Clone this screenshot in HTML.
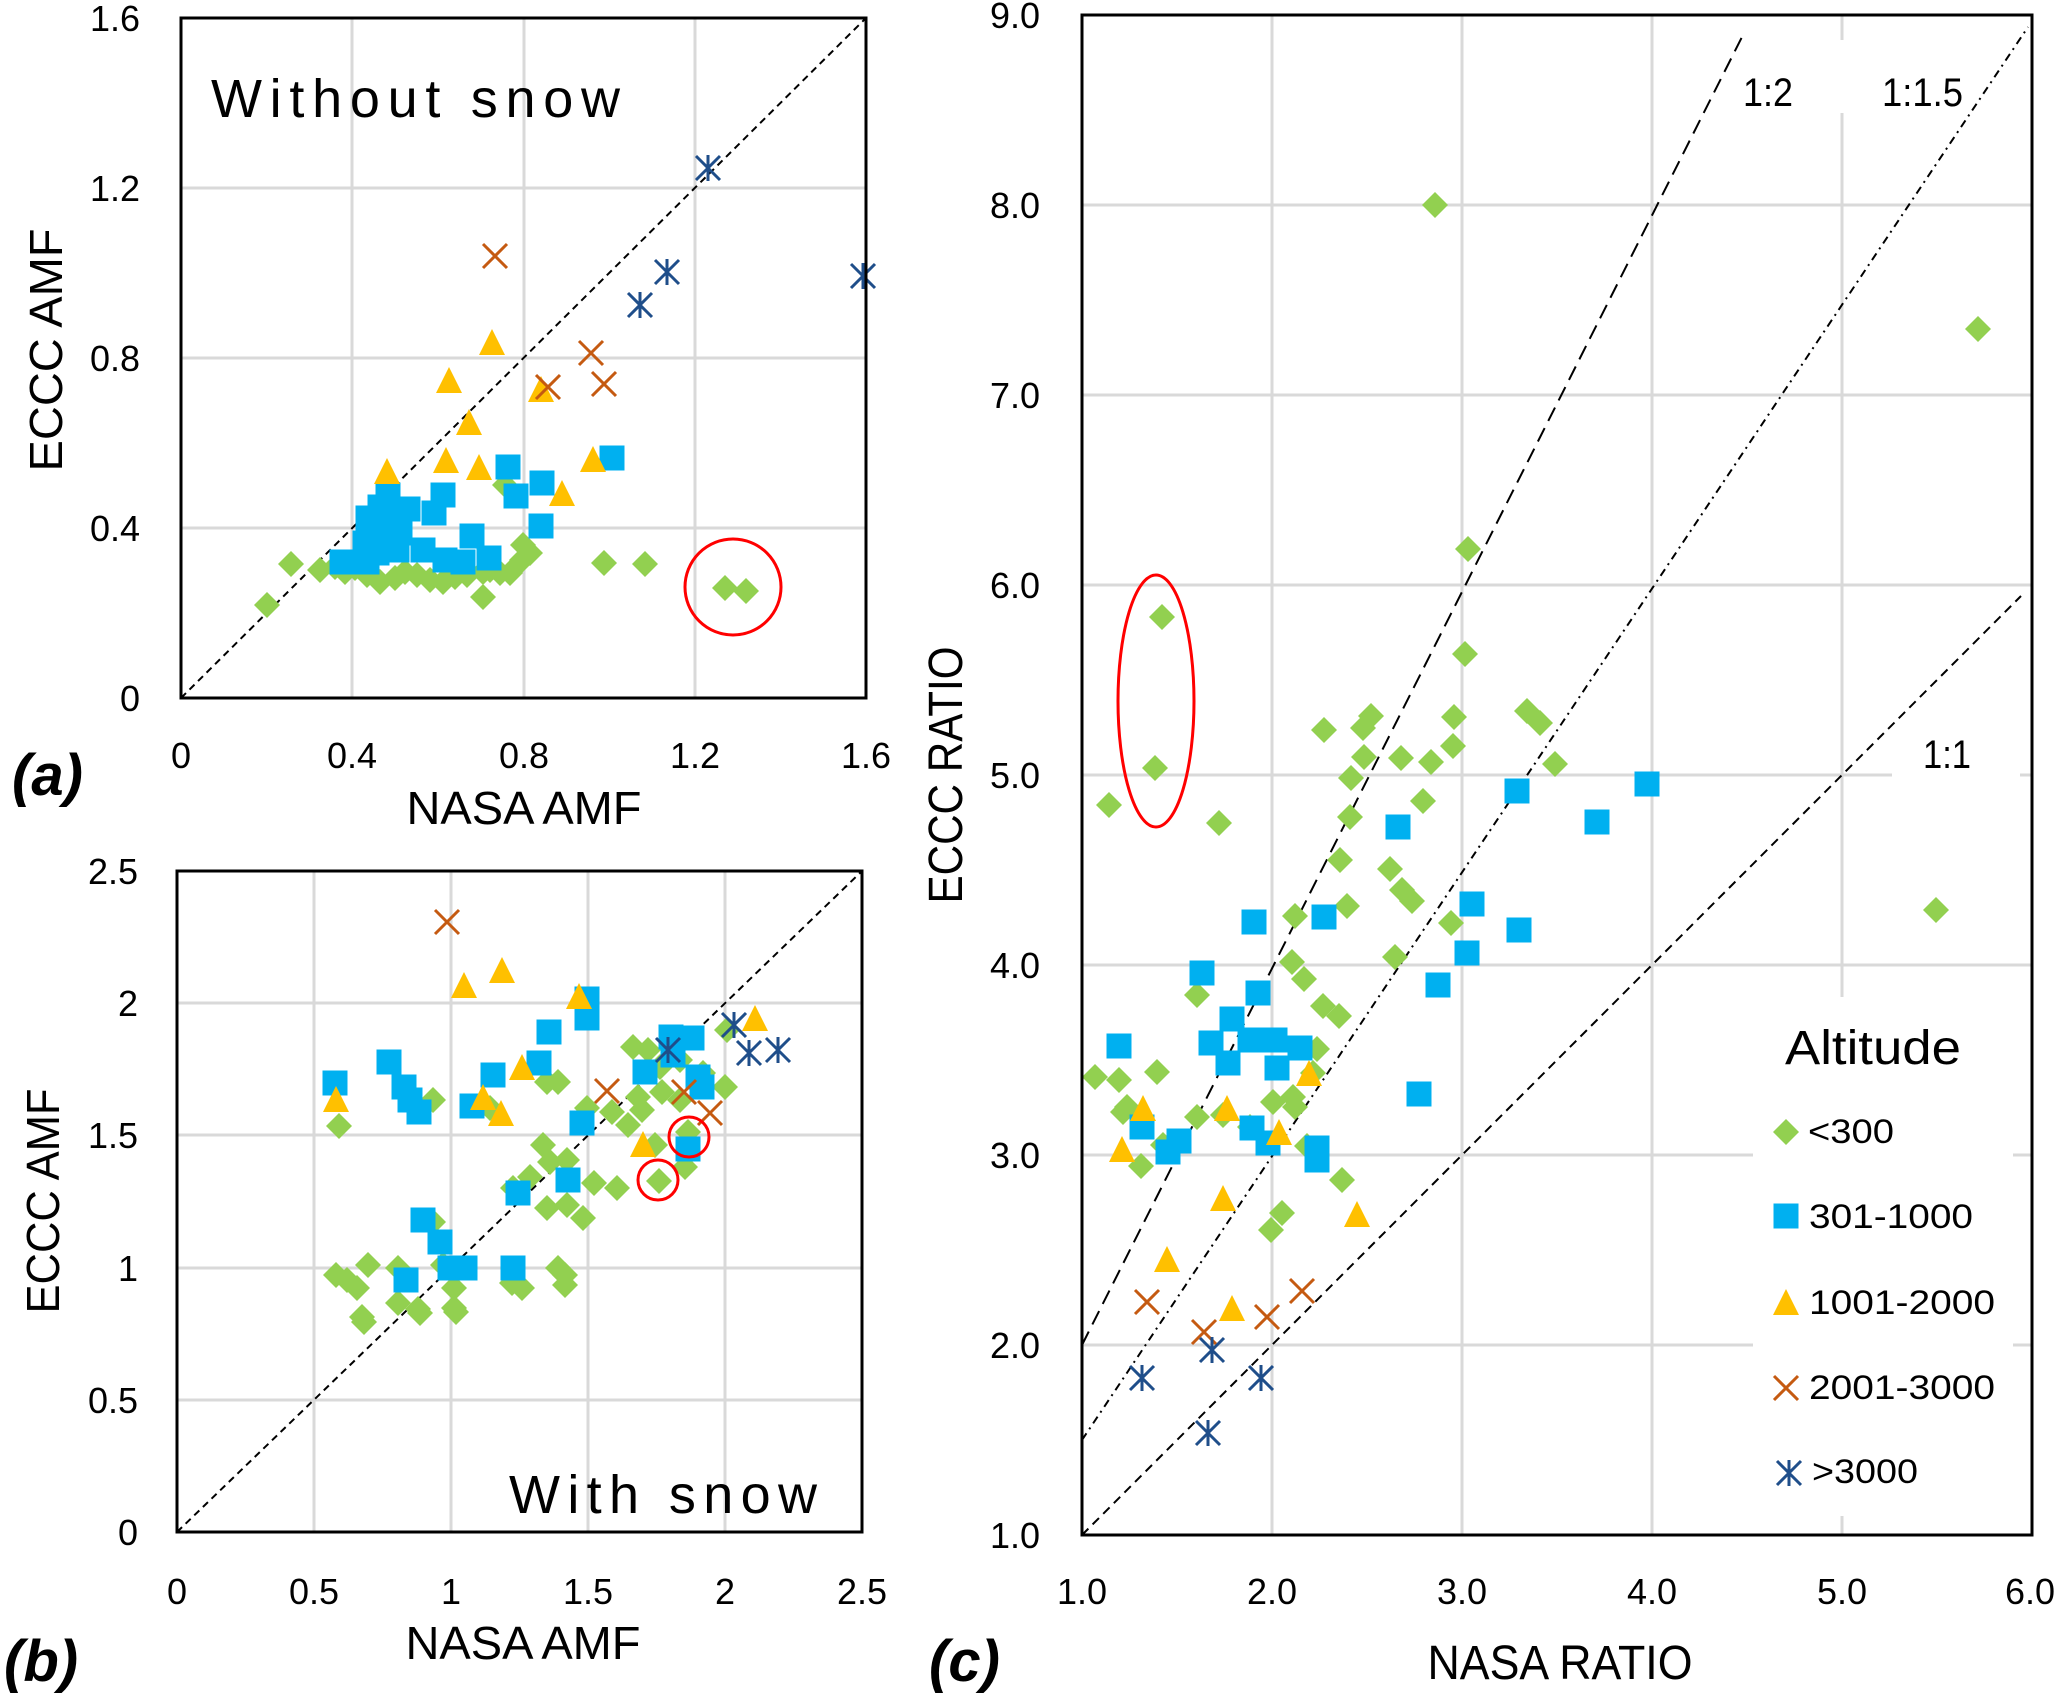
<!DOCTYPE html>
<html><head><meta charset="utf-8"><style>html,body{margin:0;padding:0;background:#fff}svg{display:block}</style></head>
<body>
<svg xmlns="http://www.w3.org/2000/svg" width="2066" height="1694" viewBox="0 0 2066 1694" font-family="'Liberation Sans', sans-serif">
<defs>
<g id="d"><polygon points="0,-13 13,0 0,13 -13,0" fill="#92D050"/></g>
<g id="s"><rect x="-12.5" y="-12.5" width="25" height="25" fill="#00B0F0"/></g>
<g id="t"><polygon points="0,-13 13,13 -13,13" fill="#FFC000"/></g>
<g id="x"><path d="M-12,-12L12,12M-12,12L12,-12" stroke="#C55A11" stroke-width="3" fill="none"/></g>
<g id="k"><path d="M-12,-12L12,12M-12,12L12,-12M0,-13V13" stroke="#1F4E8A" stroke-width="3" fill="none"/></g>
</defs>
<rect width="2066" height="1694" fill="#fff"/>

<!-- ============ PANEL A ============ -->
<g stroke="#D9D9D9" stroke-width="3">
<line x1="352" y1="18" x2="352" y2="698"/><line x1="524" y1="18" x2="524" y2="698"/><line x1="695" y1="18" x2="695" y2="698"/>
<line x1="181" y1="528" x2="866" y2="528"/><line x1="181" y1="358" x2="866" y2="358"/><line x1="181" y1="188" x2="866" y2="188"/>
</g>
<line x1="181" y1="698" x2="866" y2="18" stroke="#000" stroke-width="2" stroke-dasharray="7 5"/>
<g>
<use href="#d" x="267" y="605"/><use href="#d" x="291" y="564"/><use href="#d" x="320" y="570"/><use href="#d" x="335" y="567"/><use href="#d" x="345" y="572"/><use href="#d" x="355" y="568"/><use href="#d" x="367" y="575"/><use href="#d" x="380" y="582"/><use href="#d" x="395" y="578"/><use href="#d" x="405" y="572"/><use href="#d" x="417" y="575"/><use href="#d" x="430" y="580"/><use href="#d" x="443" y="582"/><use href="#d" x="455" y="577"/><use href="#d" x="467" y="575"/><use href="#d" x="483" y="572"/><use href="#d" x="490" y="570"/><use href="#d" x="500" y="573"/><use href="#d" x="510" y="573"/><use href="#d" x="522" y="560"/><use href="#d" x="530" y="553"/><use href="#d" x="523" y="545"/><use href="#d" x="505" y="485"/><use href="#d" x="483" y="597"/><use href="#d" x="604" y="563"/><use href="#d" x="645" y="564"/><use href="#d" x="725" y="588"/><use href="#d" x="746" y="591"/>
</g>
<g>
<use href="#s" x="508" y="467"/><use href="#s" x="542" y="483"/><use href="#s" x="516" y="496"/><use href="#s" x="612" y="458"/><use href="#s" x="541" y="526"/><use href="#s" x="443" y="495"/><use href="#s" x="434" y="513"/><use href="#s" x="408" y="509"/><use href="#s" x="388" y="495"/><use href="#s" x="380" y="507"/><use href="#s" x="368" y="518"/><use href="#s" x="390" y="527"/><use href="#s" x="400" y="533"/><use href="#s" x="365" y="543"/><use href="#s" x="377" y="553"/><use href="#s" x="397" y="550"/><use href="#s" x="342" y="562"/><use href="#s" x="367" y="562"/><use href="#s" x="423" y="550"/><use href="#s" x="472" y="536"/><use href="#s" x="445" y="560"/><use href="#s" x="463" y="562"/><use href="#s" x="489" y="558"/><use href="#s" x="387" y="540"/><use href="#s" x="397" y="513"/>
</g>
<g>
<use href="#t" x="492" y="342"/><use href="#t" x="449" y="380"/><use href="#t" x="541" y="389"/><use href="#t" x="469" y="422"/><use href="#t" x="446" y="460"/><use href="#t" x="479" y="467"/><use href="#t" x="593" y="459"/><use href="#t" x="387" y="471"/><use href="#t" x="562" y="493"/>
</g>
<g><use href="#x" x="495" y="256"/><use href="#x" x="591" y="353"/><use href="#x" x="548" y="387"/><use href="#x" x="604" y="384"/></g>
<g><use href="#k" x="708" y="168"/><use href="#k" x="667" y="272"/><use href="#k" x="640" y="305"/><use href="#k" x="863" y="276"/></g>
<circle cx="733" cy="587" r="48" fill="none" stroke="#FF0000" stroke-width="3"/>
<rect x="181" y="18" width="685" height="680" fill="none" stroke="#000" stroke-width="3"/>
<text x="211" y="117" font-size="54" textLength="409" lengthAdjust="spacing">Without snow</text>
<g font-size="36" text-anchor="end">
<text x="140" y="711">0</text><text x="140" y="541">0.4</text><text x="140" y="371">0.8</text><text x="140" y="201">1.2</text><text x="140" y="31">1.6</text>
</g>
<g font-size="36" text-anchor="middle">
<text x="181" y="768">0</text><text x="352" y="768">0.4</text><text x="524" y="768">0.8</text><text x="695" y="768">1.2</text><text x="866" y="768">1.6</text>
</g>
<text x="524" y="824" font-size="46" text-anchor="middle" textLength="235" lengthAdjust="spacingAndGlyphs">NASA AMF</text>
<text transform="translate(62,350) rotate(-90)" font-size="46" text-anchor="middle" textLength="243" lengthAdjust="spacingAndGlyphs">ECCC AMF</text>
<text x="12" y="795" font-size="58" font-weight="bold" font-style="italic">(a)</text>

<!-- ============ PANEL B ============ -->
<g stroke="#D9D9D9" stroke-width="3">
<line x1="314" y1="871" x2="314" y2="1532"/><line x1="451" y1="871" x2="451" y2="1532"/><line x1="588" y1="871" x2="588" y2="1532"/><line x1="725" y1="871" x2="725" y2="1532"/>
<line x1="177" y1="1400" x2="862" y2="1400"/><line x1="177" y1="1268" x2="862" y2="1268"/><line x1="177" y1="1135" x2="862" y2="1135"/><line x1="177" y1="1003" x2="862" y2="1003"/>
</g>
<line x1="177" y1="1532" x2="862" y2="871" stroke="#000" stroke-width="2" stroke-dasharray="7 5"/>
<g>
<use href="#d" x="339" y="1126"/><use href="#d" x="433" y="1100"/><use href="#d" x="547" y="1082"/><use href="#d" x="558" y="1082"/><use href="#d" x="633" y="1047"/><use href="#d" x="648" y="1050"/><use href="#d" x="660" y="1067"/><use href="#d" x="680" y="1060"/><use href="#d" x="703" y="1073"/><use href="#d" x="725" y="1087"/><use href="#d" x="662" y="1092"/><use href="#d" x="638" y="1097"/><use href="#d" x="680" y="1100"/><use href="#d" x="587" y="1108"/><use href="#d" x="612" y="1112"/><use href="#d" x="642" y="1110"/><use href="#d" x="628" y="1125"/><use href="#d" x="688" y="1132"/><use href="#d" x="655" y="1145"/><use href="#d" x="685" y="1167"/><use href="#d" x="659" y="1181"/><use href="#d" x="543" y="1145"/><use href="#d" x="550" y="1162"/><use href="#d" x="567" y="1160"/><use href="#d" x="530" y="1177"/><use href="#d" x="513" y="1188"/><use href="#d" x="594" y="1183"/><use href="#d" x="617" y="1188"/><use href="#d" x="547" y="1208"/><use href="#d" x="567" y="1205"/><use href="#d" x="583" y="1218"/><use href="#d" x="490" y="1108"/><use href="#d" x="433" y="1222"/><use href="#d" x="336" y="1275"/><use href="#d" x="347" y="1280"/><use href="#d" x="357" y="1288"/><use href="#d" x="368" y="1265"/><use href="#d" x="398" y="1268"/><use href="#d" x="398" y="1303"/><use href="#d" x="362" y="1317"/><use href="#d" x="418" y="1309"/><use href="#d" x="454" y="1288"/><use href="#d" x="454" y="1308"/><use href="#d" x="512" y="1283"/><use href="#d" x="522" y="1288"/><use href="#d" x="558" y="1268"/><use href="#d" x="565" y="1275"/><use href="#d" x="565" y="1285"/><use href="#d" x="443" y="1265"/><use href="#d" x="364" y="1322"/><use href="#d" x="420" y="1313"/><use href="#d" x="456" y="1312"/><use href="#d" x="727" y="1030"/>
</g>
<g>
<use href="#s" x="587" y="999"/><use href="#s" x="587" y="1018"/><use href="#s" x="549" y="1032"/><use href="#s" x="539" y="1063"/><use href="#s" x="493" y="1075"/><use href="#s" x="389" y="1062"/><use href="#s" x="335" y="1083"/><use href="#s" x="404" y="1087"/><use href="#s" x="410" y="1100"/><use href="#s" x="419" y="1112"/><use href="#s" x="472" y="1106"/><use href="#s" x="582" y="1123"/><use href="#s" x="671" y="1037"/><use href="#s" x="692" y="1038"/><use href="#s" x="673" y="1055"/><use href="#s" x="645" y="1072"/><use href="#s" x="698" y="1077"/><use href="#s" x="702" y="1087"/><use href="#s" x="688" y="1149"/><use href="#s" x="568" y="1180"/><use href="#s" x="518" y="1193"/><use href="#s" x="423" y="1220"/><use href="#s" x="440" y="1242"/><use href="#s" x="450" y="1268"/><use href="#s" x="465" y="1268"/><use href="#s" x="406" y="1280"/><use href="#s" x="513" y="1268"/>
</g>
<g>
<use href="#t" x="464" y="985"/><use href="#t" x="502" y="970"/><use href="#t" x="579" y="996"/><use href="#t" x="336" y="1099"/><use href="#t" x="522" y="1067"/><use href="#t" x="483" y="1097"/><use href="#t" x="501" y="1113"/><use href="#t" x="643" y="1144"/><use href="#t" x="755" y="1018"/>
</g>
<g><use href="#x" x="447" y="922"/><use href="#x" x="607" y="1091"/><use href="#x" x="684" y="1092"/><use href="#x" x="710" y="1113"/></g>
<g><use href="#k" x="668" y="1050"/><use href="#k" x="734" y="1025"/><use href="#k" x="749" y="1053"/><use href="#k" x="778" y="1050"/></g>
<circle cx="689" cy="1137" r="20" fill="none" stroke="#FF0000" stroke-width="3"/>
<circle cx="658" cy="1180" r="20" fill="none" stroke="#FF0000" stroke-width="3"/>
<rect x="177" y="871" width="685" height="661" fill="none" stroke="#000" stroke-width="3"/>
<text x="509" y="1513" font-size="54" textLength="308" lengthAdjust="spacing">With snow</text>
<g font-size="36" text-anchor="end">
<text x="138" y="1545">0</text><text x="138" y="1413">0.5</text><text x="138" y="1281">1</text><text x="138" y="1148">1.5</text><text x="138" y="1016">2</text><text x="138" y="884">2.5</text>
</g>
<g font-size="36" text-anchor="middle">
<text x="177" y="1604">0</text><text x="314" y="1604">0.5</text><text x="451" y="1604">1</text><text x="588" y="1604">1.5</text><text x="725" y="1604">2</text><text x="862" y="1604">2.5</text>
</g>
<text x="523" y="1659" font-size="46" text-anchor="middle" textLength="235" lengthAdjust="spacingAndGlyphs">NASA AMF</text>
<text transform="translate(59,1201) rotate(-90)" font-size="46" text-anchor="middle" textLength="225" lengthAdjust="spacingAndGlyphs">ECCC AMF</text>
<text x="4" y="1681" font-size="58" font-weight="bold" font-style="italic">(b)</text>

<!-- ============ PANEL C ============ -->
<g stroke="#D9D9D9" stroke-width="3">
<line x1="1272" y1="15" x2="1272" y2="1535"/><line x1="1462" y1="15" x2="1462" y2="1535"/><line x1="1652" y1="15" x2="1652" y2="1535"/>
<line x1="1842" y1="15" x2="1842" y2="40"/><line x1="1842" y1="113" x2="1842" y2="997"/><line x1="1842" y1="1516" x2="1842" y2="1535"/>
<line x1="1082" y1="205" x2="2032" y2="205"/><line x1="1082" y1="395" x2="2032" y2="395"/><line x1="1082" y1="585" x2="2032" y2="585"/>
<line x1="1082" y1="775" x2="1892" y2="775"/><line x1="2020" y1="775" x2="2032" y2="775"/>
<line x1="1082" y1="965" x2="2032" y2="965"/>
<line x1="1082" y1="1155" x2="1753" y2="1155"/><line x1="2013" y1="1155" x2="2032" y2="1155"/>
<line x1="1082" y1="1345" x2="1753" y2="1345"/><line x1="2013" y1="1345" x2="2032" y2="1345"/>
</g>
<line x1="1082" y1="1535" x2="2021" y2="596" stroke="#000" stroke-width="2" stroke-dasharray="9 6"/>
<line x1="1082" y1="1345" x2="1743" y2="35" stroke="#000" stroke-width="2" stroke-dasharray="15 8"/>
<line x1="1082" y1="1440" x2="2028" y2="27" stroke="#000" stroke-width="2" stroke-dasharray="8 5 2 5"/>
<g>
<use href="#d" x="1435" y="205"/><use href="#d" x="1978" y="329"/><use href="#d" x="1936" y="910"/>
<use href="#d" x="1468" y="549"/><use href="#d" x="1162" y="617"/><use href="#d" x="1465" y="654"/><use href="#d" x="1371" y="716"/><use href="#d" x="1363" y="728"/><use href="#d" x="1324" y="730"/><use href="#d" x="1454" y="717"/><use href="#d" x="1527" y="711"/><use href="#d" x="1540" y="723"/><use href="#d" x="1453" y="746"/><use href="#d" x="1364" y="757"/><use href="#d" x="1401" y="758"/><use href="#d" x="1431" y="762"/><use href="#d" x="1555" y="764"/><use href="#d" x="1155" y="768"/><use href="#d" x="1351" y="778"/><use href="#d" x="1109" y="805"/><use href="#d" x="1423" y="801"/><use href="#d" x="1219" y="823"/><use href="#d" x="1350" y="817"/><use href="#d" x="1340" y="860"/><use href="#d" x="1390" y="869"/><use href="#d" x="1402" y="890"/><use href="#d" x="1412" y="901"/><use href="#d" x="1347" y="906"/><use href="#d" x="1295" y="916"/><use href="#d" x="1451" y="923"/><use href="#d" x="1395" y="957"/><use href="#d" x="1292" y="962"/><use href="#d" x="1304" y="979"/><use href="#d" x="1197" y="995"/><use href="#d" x="1323" y="1006"/><use href="#d" x="1339" y="1016"/><use href="#d" x="1317" y="1049"/>
<use href="#d" x="1095" y="1077"/><use href="#d" x="1119" y="1080"/><use href="#d" x="1157" y="1072"/><use href="#d" x="1313" y="1073"/><use href="#d" x="1127" y="1107"/><use href="#d" x="1123" y="1112"/><use href="#d" x="1197" y="1117"/><use href="#d" x="1223" y="1115"/><use href="#d" x="1273" y="1102"/><use href="#d" x="1293" y="1097"/><use href="#d" x="1295" y="1107"/><use href="#d" x="1163" y="1145"/><use href="#d" x="1141" y="1166"/><use href="#d" x="1307" y="1146"/><use href="#d" x="1342" y="1180"/><use href="#d" x="1282" y="1213"/><use href="#d" x="1271" y="1230"/><use href="#d" x="1250" y="1127"/>
</g>
<g>
<use href="#s" x="1517" y="791"/><use href="#s" x="1647" y="784"/><use href="#s" x="1597" y="822"/><use href="#s" x="1398" y="827"/><use href="#s" x="1472" y="904"/><use href="#s" x="1254" y="922"/><use href="#s" x="1324" y="917"/><use href="#s" x="1519" y="930"/><use href="#s" x="1467" y="953"/><use href="#s" x="1202" y="973"/><use href="#s" x="1438" y="985"/><use href="#s" x="1258" y="993"/><use href="#s" x="1232" y="1019"/><use href="#s" x="1119" y="1046"/><use href="#s" x="1211" y="1043"/><use href="#s" x="1250" y="1040"/><use href="#s" x="1275" y="1040"/><use href="#s" x="1300" y="1048"/><use href="#s" x="1228" y="1063"/><use href="#s" x="1277" y="1068"/><use href="#s" x="1419" y="1094"/><use href="#s" x="1142" y="1127"/><use href="#s" x="1179" y="1141"/><use href="#s" x="1168" y="1152"/><use href="#s" x="1252" y="1128"/><use href="#s" x="1268" y="1143"/><use href="#s" x="1317" y="1148"/><use href="#s" x="1317" y="1160"/>
</g>
<g>
<use href="#t" x="1143" y="1108"/><use href="#t" x="1227" y="1108"/><use href="#t" x="1309" y="1073"/><use href="#t" x="1279" y="1132"/><use href="#t" x="1122" y="1149"/><use href="#t" x="1223" y="1198"/><use href="#t" x="1357" y="1214"/><use href="#t" x="1167" y="1259"/><use href="#t" x="1232" y="1308"/>
</g>
<g><use href="#x" x="1147" y="1302"/><use href="#x" x="1204" y="1332"/><use href="#x" x="1267" y="1317"/><use href="#x" x="1302" y="1291"/></g>
<g><use href="#k" x="1142" y="1378"/><use href="#k" x="1212" y="1350"/><use href="#k" x="1261" y="1378"/><use href="#k" x="1208" y="1433"/></g>
<ellipse cx="1156" cy="701" rx="38" ry="126" fill="none" stroke="#FF0000" stroke-width="3"/>
<rect x="1082" y="15" width="950" height="1520" fill="none" stroke="#000" stroke-width="3"/>

<!-- line labels -->
<text x="1743" y="106" font-size="40" textLength="50" lengthAdjust="spacingAndGlyphs">1:2</text>
<text x="1882" y="106" font-size="40" textLength="81" lengthAdjust="spacingAndGlyphs">1:1.5</text>
<text x="1923" y="768" font-size="40" textLength="48" lengthAdjust="spacingAndGlyphs">1:1</text>

<!-- legend -->
<text x="1785" y="1064" font-size="48" textLength="176" lengthAdjust="spacingAndGlyphs">Altitude</text>
<use href="#d" x="1786" y="1132"/>
<use href="#s" x="1786" y="1216"/>
<use href="#t" x="1786" y="1302"/>
<use href="#x" x="1786" y="1388"/>
<use href="#k" x="1789" y="1473"/>
<g font-size="34">
<text x="1808" y="1143" textLength="86" lengthAdjust="spacingAndGlyphs">&lt;300</text>
<text x="1809" y="1228" textLength="164" lengthAdjust="spacingAndGlyphs">301-1000</text>
<text x="1809" y="1314" textLength="186" lengthAdjust="spacingAndGlyphs">1001-2000</text>
<text x="1809" y="1399" textLength="186" lengthAdjust="spacingAndGlyphs">2001-3000</text>
<text x="1812" y="1483" textLength="106" lengthAdjust="spacingAndGlyphs">&gt;3000</text>
</g>

<g font-size="36" text-anchor="end">
<text x="1040" y="1548">1.0</text><text x="1040" y="1358">2.0</text><text x="1040" y="1168">3.0</text><text x="1040" y="978">4.0</text><text x="1040" y="788">5.0</text><text x="1040" y="598">6.0</text><text x="1040" y="408">7.0</text><text x="1040" y="218">8.0</text><text x="1040" y="28">9.0</text>
</g>
<g font-size="36" text-anchor="middle">
<text x="1082" y="1604">1.0</text><text x="1272" y="1604">2.0</text><text x="1462" y="1604">3.0</text><text x="1652" y="1604">4.0</text><text x="1842" y="1604">5.0</text><text x="2030" y="1604">6.0</text>
</g>
<text x="1560" y="1679" font-size="48" text-anchor="middle" textLength="265" lengthAdjust="spacingAndGlyphs">NASA RATIO</text>
<text transform="translate(962,775) rotate(-90)" font-size="48" text-anchor="middle" textLength="257" lengthAdjust="spacingAndGlyphs">ECCC RATIO</text>
<text x="929" y="1681" font-size="58" font-weight="bold" font-style="italic">(c)</text>
</svg>
</body></html>
